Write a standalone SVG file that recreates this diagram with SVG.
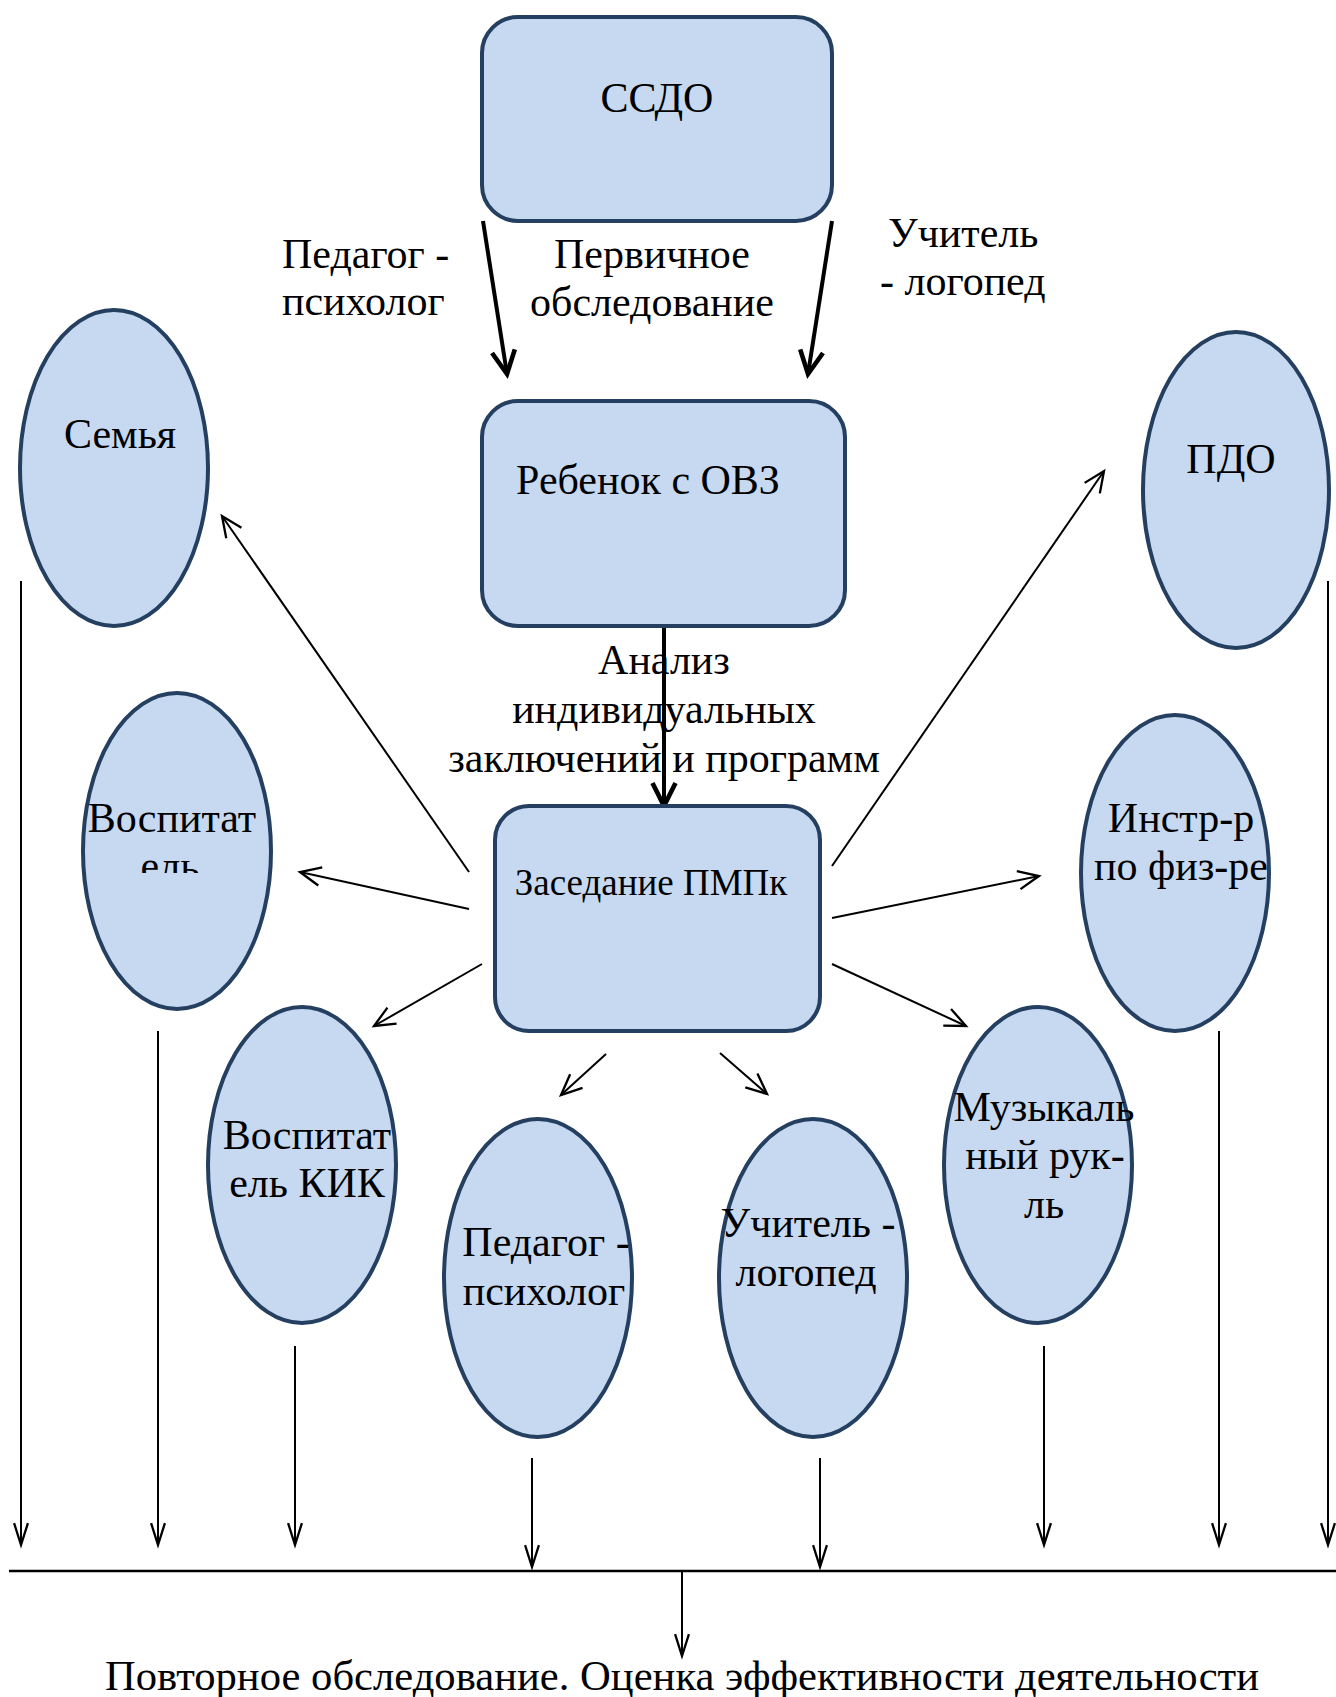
<svg xmlns="http://www.w3.org/2000/svg" width="1336" height="1697" viewBox="0 0 1336 1697">
<style>
text{font-family:"Liberation Serif","Times New Roman",serif;font-size:42px;fill:#000}
.c{text-anchor:middle}
.box{fill:#C6D9F1;stroke:#243F60;stroke-width:4}
.thick{stroke:#000;stroke-width:4;fill:none}
.thin{stroke:#000;stroke-width:2;fill:none}
</style>
<defs>
<marker id="ah" markerUnits="userSpaceOnUse" markerWidth="30" markerHeight="30" viewBox="-22 -12 26 24" refX="0" refY="0" orient="auto">
<path d="M-20,-10 L0,0 L-20,10" fill="none" stroke="#000" stroke-width="4"/>
</marker>
<marker id="at" markerUnits="userSpaceOnUse" markerWidth="30" markerHeight="30" viewBox="-22 -12 26 24" refX="0" refY="0" orient="auto">
<path d="M-18,-8 L0,0 L-18,8" fill="none" stroke="#000" stroke-width="2"/>
</marker>
<marker id="av" markerUnits="userSpaceOnUse" markerWidth="30" markerHeight="30" viewBox="-22 -12 26 24" refX="0" refY="0" orient="auto">
<path d="M-19,-6 L0,0 L-19,6" fill="none" stroke="#000" stroke-width="2"/>
</marker>
<clipPath id="clipVos"><rect x="60" y="690" width="240" height="183"/></clipPath>
</defs>

<g id="labels">
<text x="282" y="268">Педагог -</text>
<text x="282" y="315">психолог</text>
<text class="c" x="652" y="268">Первичное</text>
<text class="c" x="652" y="316">обследование</text>
<text x="888" y="247">Учитель</text>
<text x="880" y="295">- логопед</text>
<text class="c" x="664" y="674">Анализ</text>
<text class="c" x="664" y="723">индивидуальных</text>
<text class="c" x="664" y="772">заключений и программ</text>
<text x="105" y="1690" textLength="1154" lengthAdjust="spacingAndGlyphs">Повторное обследование. Оценка эффективности деятельности</text>
</g>

<g id="connectors">
<line class="thick" x1="483" y1="221" x2="507" y2="374" marker-end="url(#ah)"/>
<line class="thick" x1="832" y1="221" x2="808" y2="374" marker-end="url(#ah)"/>
<line class="thick" x1="664" y1="626" x2="664" y2="806" marker-end="url(#ah)"/>
<line class="thin" x1="469" y1="872" x2="222" y2="516" marker-end="url(#at)"/>
<line class="thin" x1="469" y1="909" x2="300" y2="872" marker-end="url(#at)"/>
<line class="thin" x1="482" y1="964" x2="374" y2="1026" marker-end="url(#at)"/>
<line class="thin" x1="606" y1="1054" x2="561" y2="1095" marker-end="url(#at)"/>
<line class="thin" x1="720" y1="1053" x2="767" y2="1094" marker-end="url(#at)"/>
<line class="thin" x1="832" y1="964" x2="966" y2="1026" marker-end="url(#at)"/>
<line class="thin" x1="832" y1="918" x2="1039" y2="876" marker-end="url(#at)"/>
<line class="thin" x1="832" y1="866" x2="1104" y2="471" marker-end="url(#at)"/>
<line class="thin" x1="21" y1="581" x2="21" y2="1545" marker-end="url(#av)"/>
<line class="thin" x1="158" y1="1031" x2="158" y2="1545" marker-end="url(#av)"/>
<line class="thin" x1="295" y1="1346" x2="295" y2="1545" marker-end="url(#av)"/>
<line class="thin" x1="532" y1="1458" x2="532" y2="1567" marker-end="url(#av)"/>
<line class="thin" x1="820" y1="1458" x2="820" y2="1567" marker-end="url(#av)"/>
<line class="thin" x1="1044" y1="1346" x2="1044" y2="1545" marker-end="url(#av)"/>
<line class="thin" x1="1219" y1="1031" x2="1219" y2="1545" marker-end="url(#av)"/>
<line class="thin" x1="1328" y1="581" x2="1328" y2="1545" marker-end="url(#av)"/>
<line x1="9" y1="1571" x2="1336" y2="1571" stroke="#000" stroke-width="2.5"/>
<line class="thin" x1="682" y1="1571" x2="682" y2="1656" marker-end="url(#av)"/>
</g>

<g id="node-ssdo">
<rect class="box" x="482" y="17" width="350" height="204" rx="36" ry="36"/>
<text class="c" x="657" y="112">ССДО</text>
</g>
<g id="node-rebenok">
<rect class="box" x="482" y="401" width="363" height="225" rx="36" ry="36"/>
<text class="c" x="648" y="494">Ребенок с ОВЗ</text>
</g>
<g id="node-zasedanie">
<rect class="box" x="495" y="806" width="325" height="225" rx="34" ry="34"/>
<text class="c" x="651" y="895" style="font-size:37px">Заседание ПМПк</text>
</g>
<g id="node-semya">
<ellipse class="box" cx="114" cy="468" rx="94" ry="158"/>
<text class="c" x="120" y="448">Семья</text>
</g>
<g id="node-pdo">
<ellipse class="box" cx="1236" cy="490" rx="93" ry="158"/>
<text class="c" x="1231" y="473">ПДО</text>
</g>
<g id="node-vospitatel">
<ellipse class="box" cx="177" cy="851" rx="94" ry="158"/>
<text class="c" x="172" y="832">Воспитат</text>
<text class="c" x="170" y="880" clip-path="url(#clipVos)">ель</text>
</g>
<g id="node-vospitatel-kik">
<ellipse class="box" cx="302" cy="1165" rx="94" ry="158"/>
<text class="c" x="307" y="1149">Воспитат</text>
<text class="c" x="307" y="1197">ель КИК</text>
</g>
<g id="node-psiholog">
<ellipse class="box" cx="538" cy="1278" rx="94" ry="159"/>
<text class="c" x="546" y="1256">Педагог -</text>
<text class="c" x="544" y="1305">психолог</text>
</g>
<g id="node-logoped">
<ellipse class="box" cx="813" cy="1278" rx="94" ry="159"/>
<text class="c" x="808" y="1237">Учитель -</text>
<text class="c" x="806" y="1286">логопед</text>
</g>
<g id="node-muz">
<ellipse class="box" cx="1038" cy="1165" rx="94" ry="158"/>
<text class="c" x="1044" y="1121">Музыкаль</text>
<text class="c" x="1045" y="1169">ный рук-</text>
<text class="c" x="1044" y="1218">ль</text>
</g>
<g id="node-instr">
<ellipse class="box" cx="1175" cy="873" rx="94" ry="158"/>
<text class="c" x="1181" y="832">Инстр-р</text>
<text class="c" x="1181" y="880">по физ-ре</text>
</g>
</svg>
